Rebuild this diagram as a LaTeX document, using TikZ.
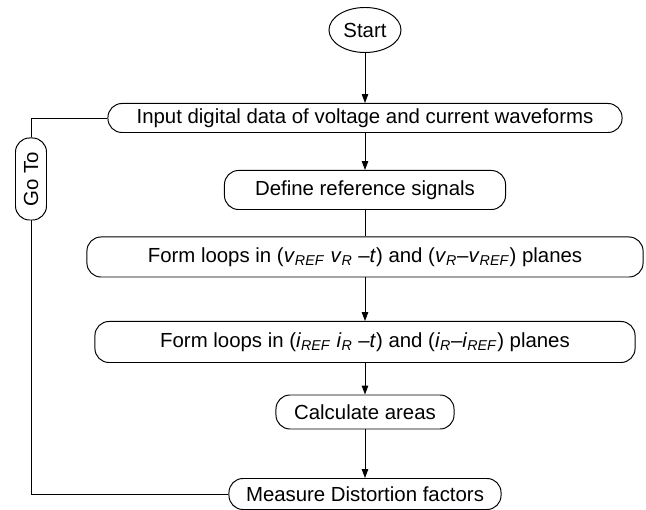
\documentclass[tikz,border=0pt]{standalone}
\usepackage{fontspec}
\setmainfont{Liberation Sans}
\usetikzlibrary{positioning}
\usetikzlibrary{shapes.geometric, arrows.meta}

\newcommand{\var}[1]{\textit{#1}}
\newcommand{\idx}[1]{\textsubscript{\textit{#1}}}

\begin{document}
\begin{tikzpicture}[x=0.025cm,y=-0.025cm]
    \tikzset{base/.style = {rectangle, rounded corners=10pt, draw=black,
                           line width=0.7pt, inner sep=0pt,
                           text centered, font=\fontsize{14.5}{16}\selectfont}}
    \tikzset{terminal/.style = {ellipse, draw=black, line width=0.7pt,
                           inner sep=0pt, font=\fontsize{14.5}{16}\selectfont}}
    \tikzset{flow/.style = {-{Triangle[length=2.2mm,width=1.6mm]}, line width=0.6pt}}
    \tikzset{link/.style = {line width=0.6pt}}

    \useasboundingbox (0,0) rectangle (646,510);

    \node (start) [terminal, minimum width=1.8cm, minimum height=1.125cm] at (365,30) {Start};
    \node (input) [base, minimum width=12.85cm, minimum height=0.725cm] at (365,118)
        {Input digital data of voltage and current waveforms};
    \node (define) [base, minimum width=7.025cm, minimum height=0.975cm] at (365,190)
        {Define reference signals};
    \node (formv) [base, minimum width=13.9cm, minimum height=1.0cm] at (365,257)
        {Form loops in (\var{v}\idx{REF} \var{v}\idx{R} --\var{t}) and (\var{v}\idx{R}--\var{v}\idx{REF}) planes};
    \node (formi) [base, minimum width=13.5cm, minimum height=1.025cm] at (365,342)
        {Form loops in (\var{i}\idx{REF} \var{i}\idx{R} --\var{t}) and (\var{i}\idx{R}--\var{i}\idx{REF}) planes};
    \node (calc) [base, minimum width=4.45cm, minimum height=0.85cm] at (365,412)
        {Calculate areas};
    \node (measure) [base, minimum width=6.8cm, minimum height=0.775cm] at (365,494)
        {Measure Distortion factors};
    \node (goto) [base, rotate=90, minimum width=2.05cm, minimum height=0.775cm] at (31,179)
        {Go To};

    \draw[flow] (start) -- (input);
    \draw[flow] (input) -- (define);
    \draw[link] (define) -- (formv);
    \draw[flow] (formv) -- (formi);
    \draw[flow] (formi) -- (calc);
    \draw[flow] (calc) -- (measure);

    % loop back to the input step
    \draw[link] (measure.west) -| (goto.west);
    \draw[link] (goto.east) |- (input.west);

\end{tikzpicture}
\end{document}
